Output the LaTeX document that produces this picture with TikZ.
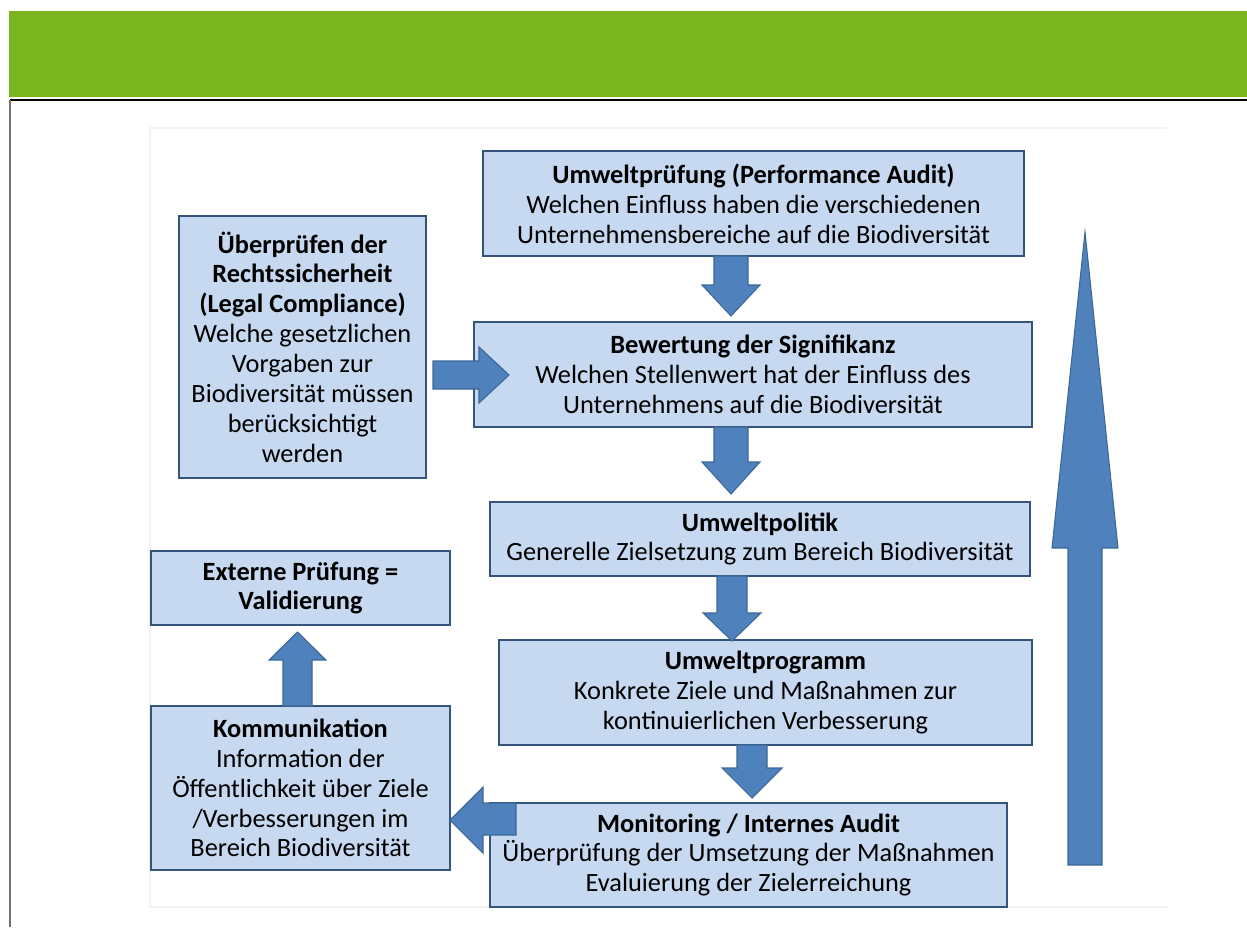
\documentclass[tikz,border=0pt]{standalone}
\usepackage{fontspec}
\setmainfont{Carlito}
\definecolor{topgreen}{RGB}{122,181,32}
\definecolor{boxfill}{RGB}{198,217,240}
\definecolor{boxborder}{RGB}{52,84,125}
\definecolor{arrowfill}{RGB}{79,129,189}
\definecolor{arrowborder}{RGB}{60,104,152}
\tikzset{
  bx/.style={draw=boxborder, fill=boxfill, line width=1.3pt, inner sep=0pt,
    align=center, font=\fontsize{15}{17}\selectfont},
  barrow/.style={fill=arrowfill, draw=arrowborder, line width=0.6pt, line join=miter},
}
\begin{document}
\begin{tikzpicture}[x=0.02cm,y=-0.02cm]
\useasboundingbox (0,0) rectangle (1247,927);
% header
\fill[topgreen] (9,11) rectangle (1247,97);
\draw[black, line width=0.9pt] (10,100) -- (1247,100);
\draw[black!55, line width=1.2pt] (10,100) -- (10,927);
% faint frame
\draw[black!5, line width=0.8pt] (1166,128) -- (150,128) -- (150,907) -- (1168,907);

% boxes
\node[bx, minimum width=541*0.02cm, minimum height=105*0.02cm] (n1) at (753.5,203.5)
  {\textbf{Umweltprüfung (Performance Audit)}\\Welchen Einfluss haben die verschiedenen\\Unternehmensbereiche auf die Biodiversität};
\node[bx, minimum width=247*0.02cm, minimum height=262*0.02cm] (n2) at (302.5,347)
  {\textbf{Überprüfen der}\\\textbf{Rechtssicherheit}\\\textbf{(Legal Compliance)}\\Welche gesetzlichen\\Vorgaben zur\\Biodiversität müssen\\berücksichtigt\\werden};
\node[bx, minimum width=558*0.02cm, minimum height=105*0.02cm] (n3) at (753,374.5)
  {\textbf{Bewertung der Signifikanz}\\Welchen Stellenwert hat der Einfluss des\\Unternehmens auf die Biodiversität};
\node[bx, minimum width=540*0.02cm, minimum height=74*0.02cm] (n4) at (760,539)
  {\textbf{Umweltpolitik}\\Generelle Zielsetzung zum Bereich Biodiversität};
\node[bx, minimum width=533*0.02cm, minimum height=105*0.02cm] (n5) at (765.5,692.5)
  {\textbf{Umweltprogramm}\\Konkrete Ziele und Maßnahmen zur\\kontinuierlichen Verbesserung};
\node[bx, minimum width=517*0.02cm, minimum height=104*0.02cm] (n6) at (748.5,855)
  {\textbf{Monitoring / Internes Audit}\\Überprüfung der Umsetzung der Maßnahmen\\Evaluierung der Zielerreichung};
\node[bx, minimum width=299*0.02cm, minimum height=74*0.02cm] (n7) at (300.5,588)
  {\textbf{Externe Prüfung =}\\\textbf{Validierung}};
\node[bx, minimum width=299*0.02cm, minimum height=164*0.02cm] (n8) at (300.5,788)
  {\textbf{Kommunikation}\\Information der\\Öffentlichkeit über Ziele\\/Verbesserungen im\\Bereich Biodiversität};

% block arrows
% n1 -> n3
\draw[barrow] (714,256) -- (748,256) -- (748,285) -- (760,285) -- (731,316) -- (702,285) -- (714,285) -- cycle;
% n3 -> n4
\draw[barrow] (714,427) -- (748,427) -- (748,462) -- (760,462) -- (731,494) -- (702,462) -- (714,462) -- cycle;
% n4 -> n5
\draw[barrow] (717,576) -- (747,576) -- (747,613) -- (761,613) -- (732,641) -- (703,613) -- (717,613) -- cycle;
% n5 -> n6
\draw[barrow] (737,745) -- (767,745) -- (767,768) -- (782,768) -- (752,798) -- (722,768) -- (737,768) -- cycle;
% n2 -> n3
\draw[barrow] (433,361) -- (479,361) -- (479,347) -- (509,375) -- (479,403) -- (479,389) -- (433,389) -- cycle;
% n8 -> n7
\draw[barrow] (283,706) -- (312,706) -- (312,660) -- (326,660) -- (297.5,632) -- (269,660) -- (283,660) -- cycle;
% n6 -> n8
\draw[barrow] (516,803) -- (516,835) -- (483,835) -- (483,853) -- (450,820) -- (483,787) -- (483,803) -- cycle;
% big cycle arrow
\draw[barrow] (1068,865) -- (1102,865) -- (1102,548) -- (1118,548) -- (1085,232) -- (1052,548) -- (1068,548) -- cycle;
\end{tikzpicture}
\end{document}
